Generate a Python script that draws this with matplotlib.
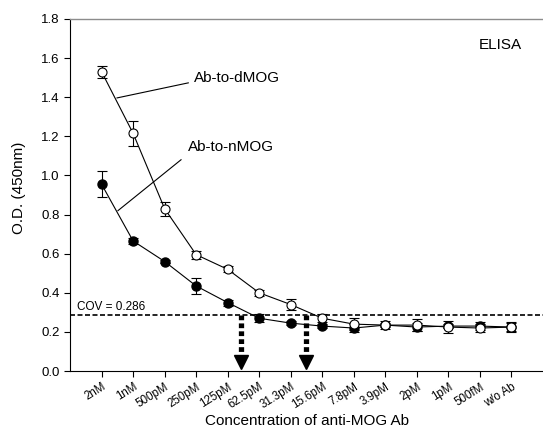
import numpy as np
import matplotlib
matplotlib.use('Agg')
import matplotlib.pyplot as plt

plt.rcParams['font.family'] = ['Liberation Sans', 'DejaVu Sans']

# concentrations of anti-MOG Ab (categories along x)
conc = ['2nM', '1nM', '500pM', '250pM', '125pM', '62.5pM', '31.3pM',
        '15.6pM', '7.8pM', '3.9pM', '2pM', '1pM', '500fM', 'w/o Ab']

# Ab-to-dMOG (open circles)
dmog = [1.53, 1.215, 0.83, 0.595, 0.52, 0.40, 0.34, 0.27, 0.24, 0.235,
        0.235, 0.225, 0.22, 0.225]
dmog_err = [0.03, 0.065, 0.035, 0.02, 0.015, 0.015, 0.03, 0.02, 0.03, 0.02,
            0.03, 0.03, 0.02, 0.025]

# Ab-to-nMOG (filled circles)
nmog = [0.955, 0.665, 0.56, 0.435, 0.35, 0.27, 0.245, 0.23, 0.22, 0.235,
        0.225, 0.23, 0.23, 0.225]
nmog_err = [0.065, 0.015, 0.01, 0.04, 0.015, 0.02, 0.01, 0.01, 0.02, 0.01,
            0.02, 0.01, 0.02, 0.02]

cov = 0.286
cutoff_x = [5.43, 7.49]   # where each curve crosses the COV line

xpos = np.arange(1, len(conc) + 1)

fig = plt.figure(figsize=(5.43, 4.29), dpi=100)
ax = fig.add_axes([0.129, 0.135, 0.871, 0.821])

ax.errorbar(xpos, nmog, yerr=nmog_err, color='k', lw=0.8, marker='o', ms=6.5,
            mfc='k', mec='k', capsize=3.5, elinewidth=0.8, capthick=0.8, zorder=3)
ax.errorbar(xpos, dmog, yerr=dmog_err, color='k', lw=0.8, marker='o', ms=6.5,
            mfc='white', mec='k', mew=0.8, capsize=3.5, elinewidth=0.8,
            capthick=0.8, zorder=4)

# cut-off value
ax.axhline(cov, color='k', ls='--', lw=1.2, dashes=(3, 1.5), zorder=2)
ax.text(0.22, 0.327, 'COV = 0.286', fontsize=8.5, va='center', ha='left')

# arrows down from the COV line
for cx in cutoff_x:
    ax.plot([cx, cx], [cov, 0.08], color='k', lw=3.8, ls=(0, (0.9, 0.6)), zorder=5)
    ax.plot(cx, 0.045, marker='v', ms=10.5, color='k', zorder=5)

# labels with pointer lines
ax.plot([1.49, 3.75], [1.396, 1.473], color='k', lw=0.8)
ax.text(3.92, 1.50, 'Ab-to-dMOG', fontsize=11, va='center', ha='left')
ax.plot([1.52, 3.52], [0.82, 1.08], color='k', lw=0.8)
ax.text(3.73, 1.146, 'Ab-to-nMOG', fontsize=11, va='center', ha='left')
ax.text(12.95, 1.667, 'ELISA', fontsize=11, va='center', ha='left')

ax.set_xlim(0, 15)
ax.set_ylim(0, 1.8)
ax.set_yticks(np.arange(0, 1.81, 0.2))
ax.set_yticklabels(['%.1f' % v for v in np.arange(0, 1.81, 0.2)], fontsize=9.5)
ax.set_xticks(xpos)
ax.set_xticklabels(conc, fontsize=8.3, rotation=32, ha='right',
                   rotation_mode='anchor')
ax.tick_params(direction='out', length=4, width=0.8)
ax.tick_params(axis='x', pad=3)
ax.set_ylabel('O.D. (450nm)', fontsize=11, va='center')
ax.yaxis.set_label_coords(-0.108, 0.52)
ax.set_xlabel('Concentration of anti-MOG Ab', fontsize=11, va='baseline')
ax.xaxis.set_label_coords(0.5, -0.152)

ax.spines['right'].set_visible(False)
ax.spines['top'].set_color('0.55')
ax.spines['top'].set_linewidth(1.0)
for s in ['left', 'bottom']:
    ax.spines[s].set_linewidth(0.8)

fig.savefig('out.png', dpi=100)
